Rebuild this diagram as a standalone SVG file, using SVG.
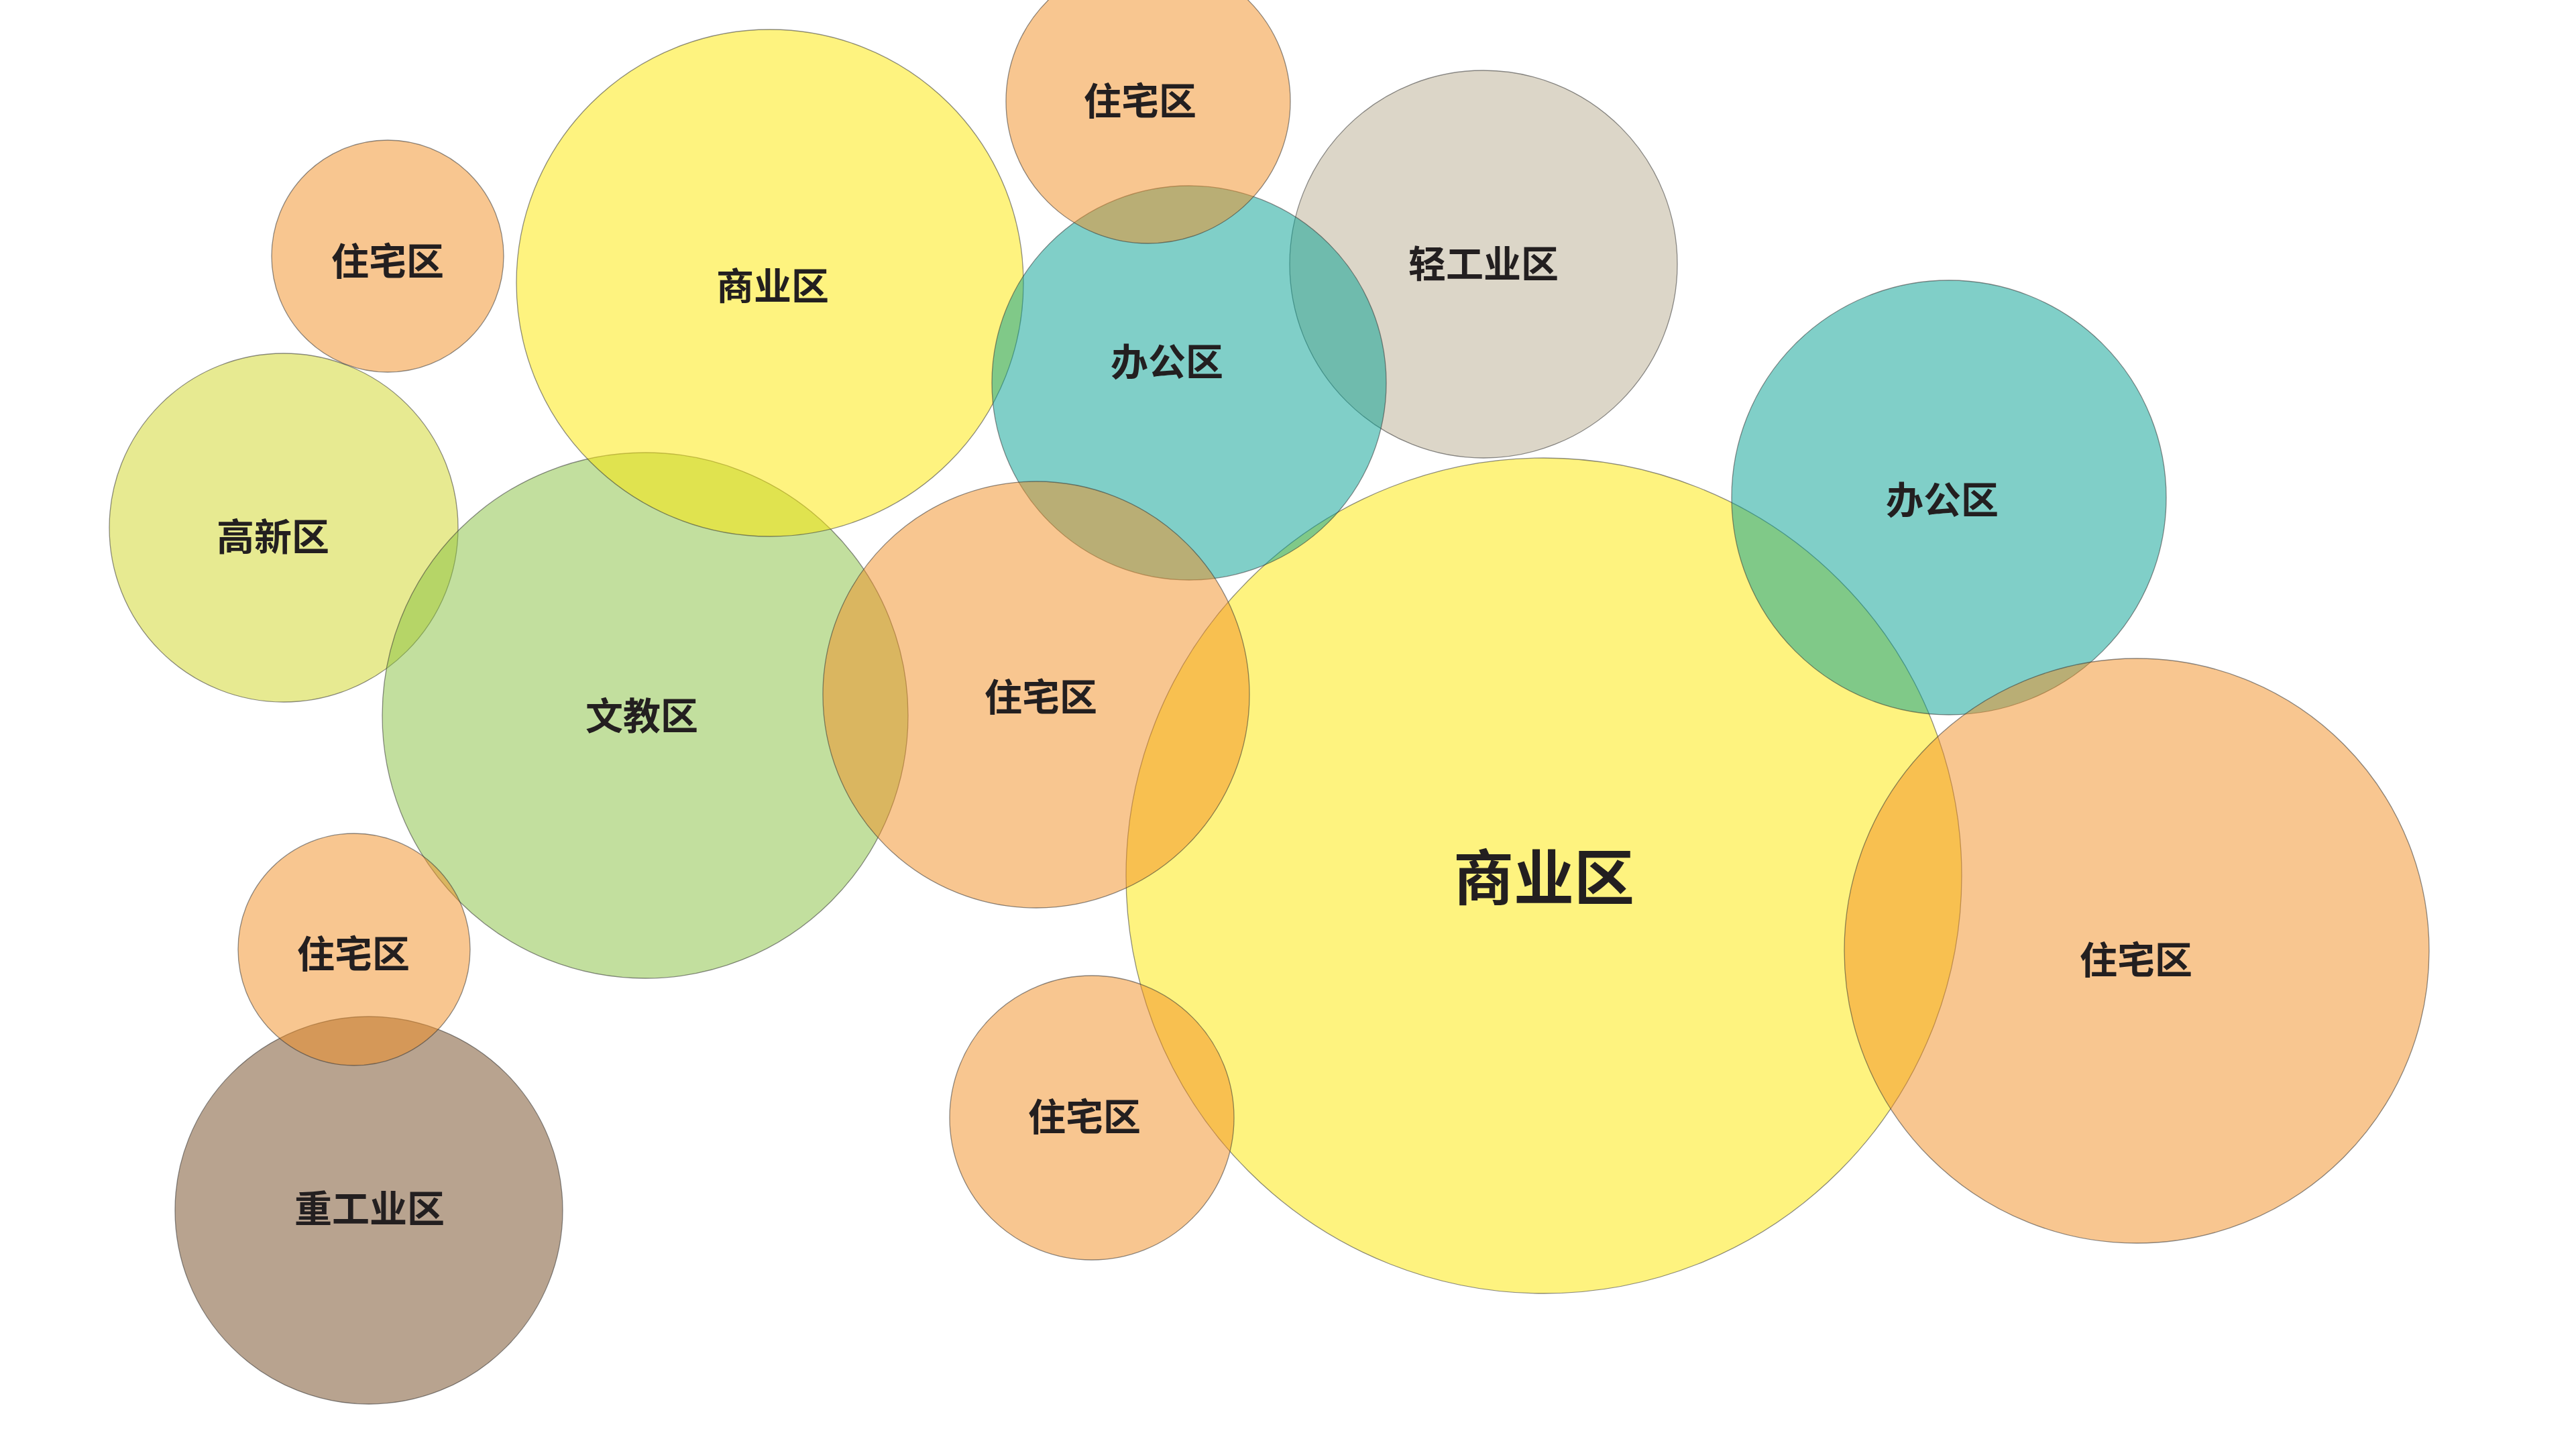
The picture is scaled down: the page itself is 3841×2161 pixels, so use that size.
<svg xmlns="http://www.w3.org/2000/svg" width="3841" height="2161" viewBox="0 0 3841 2161">
<style>
.c{fill-opacity:0.5;stroke:#333;stroke-opacity:0.55;stroke-width:1.3}
.res{fill:#F18D21}.com{fill:#FDE700}.off{fill:#019F91}.li{fill:#B9AD91}.hv{fill:#71471F}.ht{fill:#CFD523}.edu{fill:#85BF3D}
.t{font-family:"Noto Sans CJK SC","Noto Sans",sans-serif;font-weight:700;font-size:56px;fill:#231F20;text-anchor:middle}
.big{font-size:90px}
</style>
<rect width="3841" height="2161" fill="#FFFFFF"/>
<g id="connectors"/>
<g id="n-gaoxin"><circle class="c ht" cx="423" cy="787" r="260"/><text class="t" x="407" y="821">高新区</text></g>
<g id="n-wenjiao"><circle class="c edu" cx="962" cy="1067" r="392"/><text class="t" x="957" y="1088">文教区</text></g>
<g id="n-shangye1"><circle class="c com" cx="1148" cy="422" r="378"/><text class="t" x="1152" y="447">商业区</text></g>
<g id="n-shangye2"><circle class="c com" cx="2302" cy="1306" r="623"/><text class="t big" x="2302" y="1342">商业区</text></g>
<g id="n-qinggongye"><circle class="c li" cx="2212" cy="394" r="289"/><text class="t" x="2212" y="414">轻工业区</text></g>
<g id="n-bangong1"><circle class="c off" cx="1773" cy="571" r="294"/><text class="t" x="1740" y="560">办公区</text></g>
<g id="n-bangong2"><circle class="c off" cx="2906" cy="742" r="324"/><text class="t" x="2896" y="766">办公区</text></g>
<g id="n-zhonggongye"><circle class="c hv" cx="550" cy="1805" r="289"/><text class="t" x="551" y="1823">重工业区</text></g>
<g id="n-zhuzhai1"><circle class="c res" cx="1712" cy="151" r="212"/><text class="t" x="1700" y="171">住宅区</text></g>
<g id="n-zhuzhai2"><circle class="c res" cx="578" cy="382" r="173"/><text class="t" x="578" y="410">住宅区</text></g>
<g id="n-zhuzhai3"><circle class="c res" cx="1545" cy="1036" r="318"/><text class="t" x="1552" y="1060">住宅区</text></g>
<g id="n-zhuzhai4"><circle class="c res" cx="528" cy="1416" r="173"/><text class="t" x="527" y="1443">住宅区</text></g>
<g id="n-zhuzhai5"><circle class="c res" cx="1628" cy="1667" r="212"/><text class="t" x="1617" y="1686">住宅区</text></g>
<g id="n-zhuzhai6"><circle class="c res" cx="3186" cy="1418" r="436"/><text class="t" x="3185" y="1452">住宅区</text></g>
</svg>
